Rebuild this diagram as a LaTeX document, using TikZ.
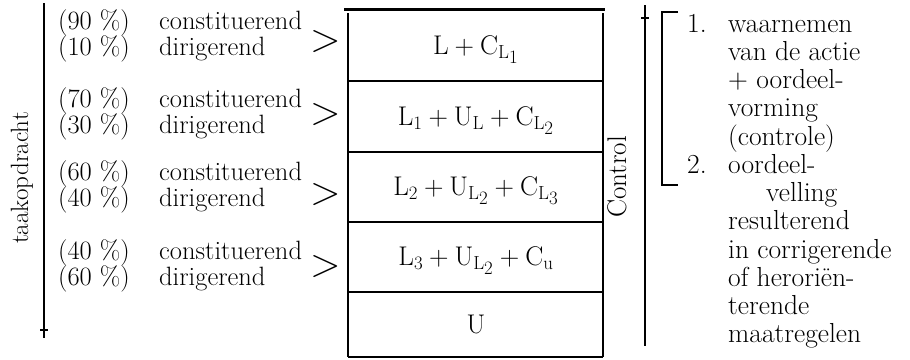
\documentclass[tikz,border=0pt]{standalone}
\usepackage{fix-cm}
\usepackage{tikz}
\usetikzlibrary{positioning}
\tikzset{
  lbl/.style={font=\fontsize{26.5}{29}\selectfont,inner sep=0pt,anchor=base west},
  side/.style={font=\fontsize{25}{28}\selectfont,inner sep=0pt,anchor=center,rotate=90},
  txt/.style={font=\fontsize{27.5}{30}\selectfont,inner sep=0pt,anchor=base west},
  cell/.style={font=\fontsize{27}{30}\selectfont,inner sep=0pt,anchor=base},
  gtsign/.style={font=\fontsize{40}{40}\selectfont,inner sep=0pt},
  rule/.style={line width=1.6pt},
  boxline/.style={line width=2.4pt},
}
\newcommand{\sub}[1]{_{\mathrm{#1}}}
\newcommand{\subsub}[2]{_{\mathrm{#1}_{\scriptstyle #2}}}

\begin{document}
\begin{tikzpicture}[x=1pt,y=-1pt]
  \useasboundingbox (0,0) rectangle (910,359);
  % left: task assignment
  \node[side] (task) at (22,178) {taakopdracht};
  \coordinate (lt) at (44,3);
  \coordinate (lb) at (44,338);
  \draw[rule] (lt)--(lb);
  \draw[rule] (40,330)--(48,330);
  \foreach \yc/\yd/\a/\b/\yg [count=\i] in {29/55/90/10/42, 107/133/70/30/115, 180/206/60/40/195, 259/285/40/60/267}{
    \node[lbl] (con\i) at (58,\yc) {\makebox[101pt][l]{(\a~\%)}constituerend};
    \node[lbl] (dir\i) at (58,\yd) {\makebox[101pt][l]{(\b~\%)}dirigerend};
    \node[gtsign] (gt\i) at (326,\yg) {>};
  }
  % the column
  \draw[line width=3pt] (344,9)--(605,9);
  \draw[boxline] (348,13)--(348,357) (603,13)--(603,357);
  \foreach \y in {81,152,222,292,357} \draw[boxline] (348,\y)--(603,\y);
  \foreach \y/\f [count=\i] in {54/{\mathrm{L}+\mathrm{C}\subsub{L}{1}},
      125/{\mathrm{L}_{\scriptstyle 1}+\mathrm{U}\sub{L}+\mathrm{C}\subsub{L}{2}},
      195/{\mathrm{L}_{\scriptstyle 2}+\mathrm{U}\subsub{L}{2}+\mathrm{C}\subsub{L}{3}},
      265/{\mathrm{L}_{\scriptstyle 3}+\mathrm{U}\subsub{L}{2}+\mathrm{C}\sub{u}},
      333/{\mathrm{U}}}
    \node[cell] (row\i) at (476,\y) {$\f$};
  % control
  \node[side,font=\fontsize{27}{30}\selectfont] (ctrl) at (617,177) {Control};
  \draw[rule] (645,5)--(645,346);
  \draw[rule] (641,18)--(649,18);
  \draw[boxline] (678,12) -| (662,185) -- (678,185);
  \node[txt] (num1) at (687,32) {1.};
  \node[txt] (num2) at (687,32+5*28.27) {2.};
  \foreach \x/\t [count=\i from 0] in {728/waarnemen, 728/van de actie, 728/+ oordeel-, 728/vorming, 728/(controle), 728/oordeel-, 766/velling, 728/resulterend, 728/in corrigerende, 728/of heroriën-, 728/terende, 728/maatregelen}
    \node[txt] (line\i) at (\x,32+28.27*\i) {\t};
\end{tikzpicture}
\end{document}
